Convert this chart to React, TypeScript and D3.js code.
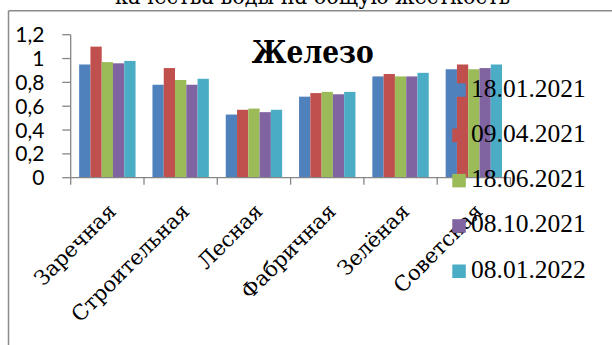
import React from "react";
import * as d3 from "d3";

// Iron content by street, five sampling dates
const categories = ["Заречная", "Строительная", "Лесная", "Фабричная", "Зелёная", "Советская"];
const seriesNames = ["18.01.2021", "09.04.2021", "18.06.2021", "08.10.2021", "08.01.2022"];
const seriesColors = ["#4F81BD", "#C0504D", "#9BBB59", "#8064A2", "#4BACC6"];

const s1 = [0.95, 0.78, 0.53, 0.68, 0.85, 0.91];
const s2 = [1.1, 0.92, 0.57, 0.71, 0.87, 0.95];
const s3 = [0.97, 0.82, 0.58, 0.72, 0.85, 0.91];
const s4 = [0.96, 0.78, 0.55, 0.7, 0.85, 0.92];
const s5 = [0.98, 0.83, 0.57, 0.72, 0.88, 0.95];
const seriesValues = [s1, s2, s3, s4, s5];

const yTicks = [0, 0.2, 0.4, 0.6, 0.8, 1, 1.2];

const W = 612;
const H = 345;
const plotLeft = 70.7;
const plotRight = 510.5;
const plotTop = 34.7;
const plotBottom = 177.7;

// Cyrillic needs a serif face that carries the glyphs
const cyrSerif = { fontFamily: "DejaVu Serif, serif" };
const latSerif = { fontFamily: "Liberation Serif, Times New Roman, serif" };
const sans = { fontFamily: "Lato, Noto Sans, sans-serif" };
const axisColor = "#868686";

export default function App() {
  const x = d3.scaleBand<string>().domain(categories).range([plotLeft, plotRight]).padding(0);
  const cw = x.bandwidth();
  const barW = cw / 6.5; // 150% gap width
  const inner = d3
    .scaleBand<string>()
    .domain(seriesNames)
    .range([barW * 0.75, cw - barW * 0.75])
    .padding(0);
  const y = d3.scaleLinear().domain([0, 1.2]).range([plotBottom, plotTop]);
  const fmt = (v: number) => d3.format("")(v).replace(".", ",");

  const boundaries = categories.map((c) => x(c) as number).concat([plotRight]);

  return (
    <svg
      width={W}
      height={H}
      style={{ position: "absolute", left: 0, top: 0, background: "#fff" }}
    >
      <rect x={0} y={0} width={W} height={H} fill="#fff" />
      {/* frame */}
      <line x1={8.5} x2={W} y1={10.7} y2={10.7} stroke="#8a8a8a" strokeWidth={1.5} />
      <line x1={8.5} x2={8.5} y1={10.7} y2={H} stroke="#8a8a8a" strokeWidth={1.5} />
      {/* caption line above the frame */}
      <text
        x={115}
        y={4}
        style={cyrSerif}
        fontSize={21.5}
        textLength={395}
        lengthAdjust="spacingAndGlyphs"
        fill="#000"
      >
        качества воды на общую жесткость
      </text>

      {/* bars */}
      {seriesValues.map((vals, si) =>
        vals.map((v, ci) => (
          <rect
            key={`${si}-${ci}`}
            x={(x(categories[ci]) as number) + (inner(seriesNames[si]) as number)}
            y={y(v)}
            width={inner.bandwidth()}
            height={plotBottom - y(v)}
            fill={seriesColors[si]}
          />
        ))
      )}

      {/* y axis */}
      <line x1={plotLeft} x2={plotLeft} y1={plotTop} y2={plotBottom} stroke={axisColor} strokeWidth={1.3} />
      {yTicks.map((t) => (
        <g key={t}>
          <line x1={plotLeft - 8.4} x2={plotLeft} y1={y(t)} y2={y(t)} stroke={axisColor} strokeWidth={1.3} />
          <text
            x={44.5}
            y={y(t)}
            dy="0.36em"
            textAnchor="end"
            style={sans}
            fontSize={21}
            fill="#000"
          >
            {fmt(t)}
          </text>
        </g>
      ))}

      {/* x axis */}
      <line x1={plotLeft} x2={plotRight} y1={plotBottom} y2={plotBottom} stroke={axisColor} strokeWidth={1.3} />
      {boundaries.map((b, i) => (
        <line key={i} x1={b} x2={b} y1={plotBottom} y2={plotBottom + 7} stroke={axisColor} strokeWidth={1.3} />
      ))}
      {categories.map((c) => {
        const ax = (x(c) as number) + cw / 2 + 10;
        const ay = plotBottom + 35;
        return (
          <text
            key={c}
            x={ax}
            y={ay}
            transform={`rotate(-45 ${ax} ${ay})`}
            textAnchor="end"
            style={cyrSerif}
            fontSize={21}
            fill="#000"
          >
            {c}
          </text>
        );
      })}

      {/* title */}
      <text
        x={251.7}
        y={63}
        style={cyrSerif}
        fontWeight="bold"
        fontSize={31}
        textLength={122}
        lengthAdjust="spacingAndGlyphs"
        fill="#000"
      >
        Железо
      </text>

      {/* legend */}
      {seriesNames.map((n, i) => {
        const top = 83.3 + i * 45.3;
        return (
          <g key={n}>
            <rect x={452.3} y={top} width={13.5} height={13.5} fill={seriesColors[i]} />
            <text x={471} y={97 + i * 45.15} style={latSerif} fontSize={25.5} fill="#000">
              {n}
            </text>
          </g>
        );
      })}
    </svg>
  );
}
